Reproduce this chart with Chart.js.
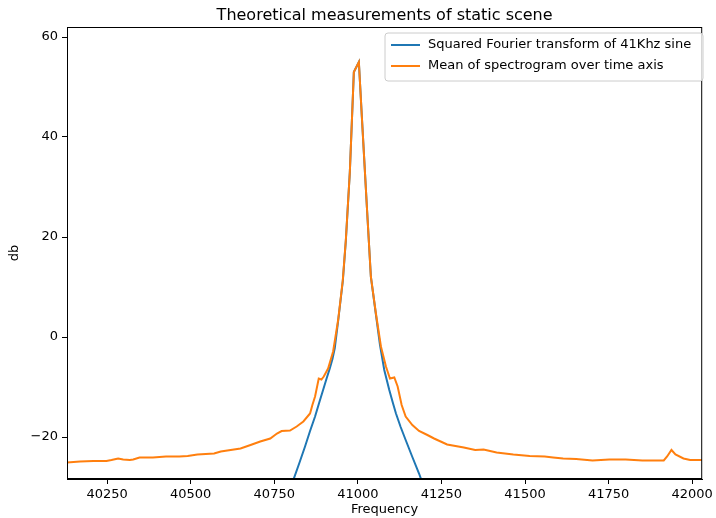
<!DOCTYPE html>
<html lang="en">
<head>
    <meta charset="UTF-8">
    <title>Theoretical measurements of static scene</title>
    <script src="https://cdn.jsdelivr.net/npm/chart.js"></script>
    <style>
        body {
            margin: 0;
            background: white;
        }
        #chart-container {
            width: 716px;
            height: 518px;
            position: relative;
        }
    </style>
</head>
<body>

<div id="chart-container">
    <canvas id="specChart"></canvas>
</div>

<script>
    // Mean of spectrogram over time axis
    const meanFreq = [40130, 40169, 40209, 40248, 40263, 40283, 40298, 40318, 40328, 40347,
        40387, 40426, 40466, 40491, 40520, 40570, 40590, 40649, 40679, 40708,
        40738, 40758, 40772, 40797, 40817, 40837, 40857, 40864, 40872, 40883,
        40891, 40898, 40911, 40926, 40941, 40955, 40964, 40976, 40988, 41003,
        41012, 41027, 41039, 41054, 41069, 41084, 41096, 41109, 41119, 41131,
        41143, 41163, 41183, 41208, 41228, 41267, 41317, 41351, 41376, 41415,
        41465, 41514, 41559, 41584, 41614, 41653, 41702, 41752, 41801, 41851,
        41915, 41925, 41938, 41950, 41974, 41994, 42029];
    const meanDb = [-25.1, -24.9, -24.8, -24.8, -24.6, -24.3, -24.5, -24.6, -24.5, -24.1,
        -24.1, -23.9, -23.9, -23.8, -23.5, -23.3, -22.9, -22.3, -21.6, -20.9,
        -20.3, -19.3, -18.8, -18.7, -17.9, -16.9, -15.3, -13.6, -11.9, -8.3,
        -8.5, -7.9, -6.3, -2.9, 3.4, 11.4, 19.4, 33, 53, 55,
        44, 26, 12, 4.7, -1.9, -5.9, -8.3, -8.1, -9.9, -13.6,
        -15.9, -17.6, -18.8, -19.6, -20.3, -21.5, -22.1, -22.6, -22.5, -23.1,
        -23.5, -23.8, -23.9, -24.1, -24.3, -24.4, -24.7, -24.5, -24.5, -24.7,
        -24.7, -23.9, -22.6, -23.5, -24.3, -24.6, -24.6];

    // Squared Fourier transform of 41Khz sine
    const fourierFreq = [40800, 40807, 40825, 40842, 40857, 40872, 40885, 40896, 40906, 40916,
        40924, 40931, 40941, 40955, 40964, 40976, 40988, 41003, 41012, 41027,
        41039, 41054, 41066, 41079, 41094, 41104, 41114, 41128, 41143, 41163,
        41183, 41190, 41200];
    const fourierDb = [-30, -28.6, -25.2, -21.9, -18.8, -15.9, -13, -10.6, -8.4, -6.3,
        -4.4, -2.2, 3.2, 11.2, 19.2, 33, 53, 55, 44, 26,
        12, 4.5, -1.5, -6.6, -10.6, -13, -15.3, -18, -20.6, -24,
        -27.3, -28.6, -30];

    const xTicks = [40250, 40500, 40750, 41000, 41250, 41500, 41750, 42000];
    const yTicks = [-20, 0, 20, 40, 60];
    const seriesNames = ['Squared Fourier transform of 41Khz sine', 'Mean of spectrogram over time axis'];
    const seriesColors = ['#1f77b4', '#ff7f0e'];

    Chart.defaults.font.family = "'DejaVu Sans', sans-serif";
    Chart.defaults.font.size = 13;
    Chart.defaults.color = '#000';

    const toPoints = (xs, ys) => xs.map((x, i) => ({x: x, y: ys[i]}));
    const minus = v => String(v).replace('-', '\u2212');

    // frame, title and legend drawn the matplotlib way
    const decorations = {
        id: 'decorations',
        afterDraw(chart) {
            const c = chart.ctx, a = chart.chartArea;
            c.save();
            c.strokeStyle = '#000';
            c.lineWidth = 1;
            c.strokeRect(a.left + 0.5, a.top + 0.5, a.right - a.left - 1, a.bottom - a.top - 1);

            c.fillStyle = '#000';
            c.font = "16px 'DejaVu Sans'";
            c.textAlign = 'center';
            c.textBaseline = 'alphabetic';
            c.fillText('Theoretical measurements of static scene', (a.left + a.right) / 2, 20);

            // legend box
            const bx = 385, by = 33, bw = 318, bh = 48, r = 3;
            c.beginPath();
            c.moveTo(bx + r, by);
            c.arcTo(bx + bw, by, bx + bw, by + bh, r);
            c.arcTo(bx + bw, by + bh, bx, by + bh, r);
            c.arcTo(bx, by + bh, bx, by, r);
            c.arcTo(bx, by, bx + bw, by, r);
            c.closePath();
            c.fillStyle = 'rgba(255,255,255,0.8)';
            c.fill();
            c.strokeStyle = '#cccccc';
            c.stroke();

            c.font = "13px 'DejaVu Sans'";
            c.textAlign = 'left';
            c.textBaseline = 'middle';
            seriesNames.forEach((name, i) => {
                const ly = 45 + i * 21;
                c.strokeStyle = seriesColors[i];
                c.lineWidth = 2;
                c.beginPath();
                c.moveTo(391, ly);
                c.lineTo(420, ly);
                c.stroke();
                c.fillStyle = '#000';
                c.fillText(name, 428, ly);
            });
            c.restore();
        }
    };

    const ctx = document.getElementById('specChart').getContext('2d');
    const specChart = new Chart(ctx, {
        type: 'line',
        data: {
            datasets: [{
                label: seriesNames[1],
                data: toPoints(meanFreq, meanDb),
                borderColor: seriesColors[1],
                borderWidth: 2,
                pointRadius: 0,
                tension: 0,
                order: 0
            }, {
                label: seriesNames[0],
                data: toPoints(fourierFreq, fourierDb),
                borderColor: seriesColors[0],
                borderWidth: 2,
                pointRadius: 0,
                tension: 0,
                order: 1
            }]
        },
        options: {
            responsive: true,
            maintainAspectRatio: false,
            animation: false,
            layout: {
                padding: {top: 27, right: 9, left: 0, bottom: 0}
            },
            plugins: {
                legend: {display: false},
                title: {display: false},
                tooltip: {enabled: false}
            },
            scales: {
                x: {
                    type: 'linear',
                    min: 40130,
                    max: 42030,
                    afterBuildTicks: s => { s.ticks = xTicks.map(v => ({value: v})); },
                    afterFit: s => { s.height = 39; },
                    grid: {drawOnChartArea: false, tickLength: 5, tickColor: '#000'},
                    border: {display: true, color: '#000', width: 1},
                    ticks: {padding: 3, maxRotation: 0, callback: v => String(v)},
                    title: {display: true, text: 'Frequency', padding: {top: 0, bottom: 1}}
                },
                y: {
                    min: -28.4,
                    max: 62,
                    afterBuildTicks: s => { s.ticks = yTicks.map(v => ({value: v})); },
                    afterFit: s => { s.width = 67; },
                    grid: {drawOnChartArea: false, tickLength: 5, tickColor: '#000'},
                    border: {display: true, color: '#000', width: 1},
                    ticks: {padding: 4, callback: v => minus(v)},
                    title: {display: true, text: 'db', padding: {top: 7, bottom: 0}}
                }
            }
        },
        plugins: [decorations]
    });
</script>

</body>
</html>
